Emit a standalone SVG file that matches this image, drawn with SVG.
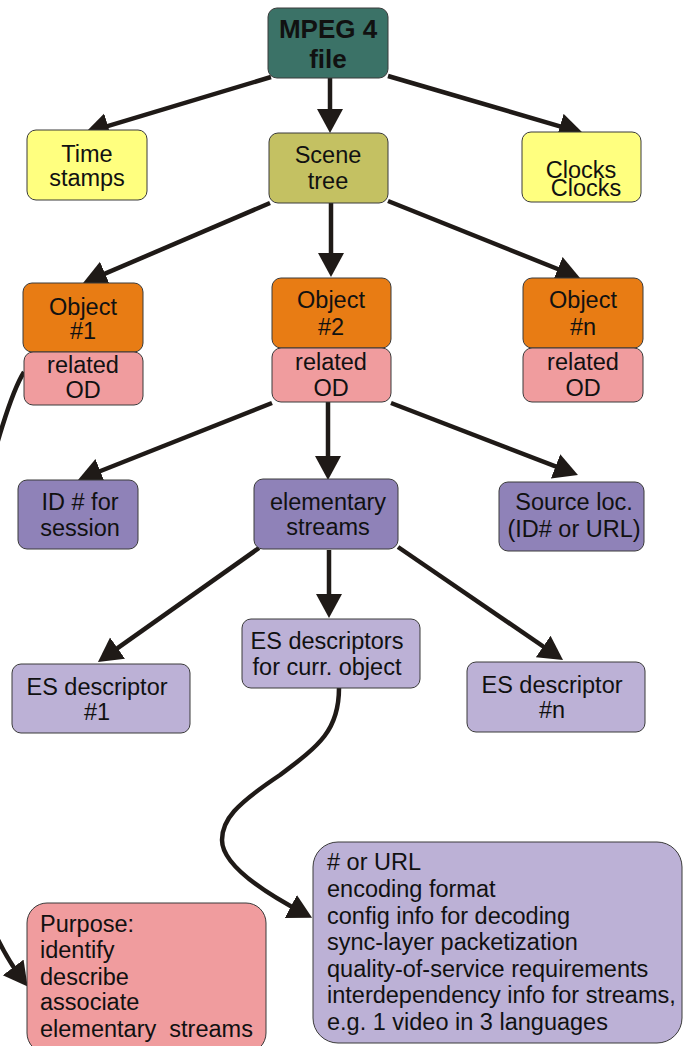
<svg xmlns="http://www.w3.org/2000/svg" width="683" height="1046" viewBox="0 0 683 1046">
<style>
.box{stroke:#3a3a3a;stroke-width:1}
.t{font-family:"Liberation Sans",Arial,sans-serif;font-size:23.5px;fill:#111;text-anchor:middle}
.l{font-family:"Liberation Sans",Arial,sans-serif;font-size:23.5px;fill:#111}
.b{font-family:"Liberation Sans",Arial,sans-serif;font-size:26px;font-weight:bold;fill:#111;text-anchor:middle}
.c{fill:none;stroke:#1f1a17;stroke-width:4.5}
</style>
<defs>
<marker id="ah" markerUnits="userSpaceOnUse" markerWidth="26" markerHeight="28" refX="16" refY="13" orient="auto">
<path d="M0,0 L24,13 L0,26 Z" fill="#1f1a17"/>
</marker>
</defs>
<rect width="683" height="1046" fill="#fff"/>
<g id="connectors">
<path class="c" marker-end="url(#ah)" d="M271,77 L92.6,130.6"/>
<path class="c" marker-end="url(#ah)" d="M330,78 L330,125"/>
<path class="c" marker-end="url(#ah)" d="M388,76 L575.3,130.8"/>
<path class="c" marker-end="url(#ah)" d="M270,203 L90.4,279.9"/>
<path class="c" marker-end="url(#ah)" d="M331,203 L331,269"/>
<path class="c" marker-end="url(#ah)" d="M388,201 L572.6,275"/>
<path class="c" marker-end="url(#ah)" d="M272,403 L85.4,477"/>
<path class="c" marker-end="url(#ah)" d="M328,402 L328,472"/>
<path class="c" marker-end="url(#ah)" d="M391,403 L570.5,472.1"/>
<path class="c" marker-end="url(#ah)" d="M259,548 L104.5,657.4"/>
<path class="c" marker-end="url(#ah)" d="M329,550 L329,610"/>
<path class="c" marker-end="url(#ah)" d="M398,547 L556.4,655.5"/>
<path class="c" marker-end="url(#ah)" d="M24,372 C0,410 -50,600 -45,750 C-40,880 0,950 22.8,980.2"/>
<path class="c" marker-end="url(#ah)" d="M339,688 C339,730 320,745 280,775 C235,805 222,820 222,840 C222,865 265,893 305,914"/>
</g>
<g id="mpeg4"><rect class="box" x="268" y="8" width="120" height="70" rx="9" fill="#3b7267"/><text class="b" x="328" y="38">MPEG 4</text><text class="b" x="328" y="68">file</text></g>
<g id="timestamps"><rect class="box" x="27" y="130" width="120" height="70" rx="9" fill="#ffff7f"/><text class="t" x="87" y="162">Time</text><text class="t" x="87" y="186">stamps</text></g>
<g id="scenetree"><rect class="box" x="269" y="133" width="119" height="70" rx="9" fill="#c4c162"/><text class="t" x="328" y="163">Scene</text><text class="t" x="328" y="189">tree</text></g>
<g id="clocks"><rect class="box" x="522" y="132" width="119" height="70" rx="9" fill="#ffff7f"/><text class="t" x="581" y="178">Clocks</text><text class="t" x="586" y="196">Clocks</text></g>
<g id="object1"><rect class="box" x="23" y="283" width="120" height="69" rx="9" fill="#e87c14"/><text class="t" x="83" y="315">Object</text><text class="t" x="83" y="339">#1</text></g>
<g id="od1"><rect class="box" x="24" y="352" width="119" height="53" rx="9" fill="#f09c9e"/><text class="t" x="83" y="373">related</text><text class="t" x="83" y="398">OD</text></g>
<g id="object2"><rect class="box" x="272" y="278" width="119" height="70" rx="9" fill="#e87c14"/><text class="t" x="331" y="308">Object</text><text class="t" x="331" y="335">#2</text></g>
<g id="od2"><rect class="box" x="272" y="348" width="119" height="54" rx="9" fill="#f09c9e"/><text class="t" x="331" y="370">related</text><text class="t" x="331" y="396">OD</text></g>
<g id="objectn"><rect class="box" x="523" y="278" width="120" height="70" rx="9" fill="#e87c14"/><text class="t" x="583" y="308">Object</text><text class="t" x="583" y="335">#n</text></g>
<g id="odn"><rect class="box" x="523" y="348" width="120" height="54" rx="9" fill="#f09c9e"/><text class="t" x="583" y="370">related</text><text class="t" x="583" y="396">OD</text></g>
<g id="idsession"><rect class="box" x="18" y="480" width="120" height="69" rx="9" fill="#8f82b8"/><text class="t" x="80" y="510">ID # for</text><text class="t" x="80" y="536">session</text></g>
<g id="elementary"><rect class="box" x="254" y="479" width="144" height="70" rx="9" fill="#8f82b8"/><text class="t" x="328" y="510">elementary</text><text class="t" x="328" y="535">streams</text></g>
<g id="sourceloc"><rect class="box" x="499" y="482" width="145" height="69" rx="9" fill="#8f82b8"/><text class="t" x="574" y="510">Source loc.</text><text class="t" x="574" y="537">(ID# or URL)</text></g>
<g id="esdesc1"><rect class="box" x="12" y="664" width="178" height="69" rx="9" fill="#bcb1d6"/><text class="t" x="97" y="695">ES descriptor</text><text class="t" x="97" y="720">#1</text></g>
<g id="escurr"><rect class="box" x="242" y="619" width="178" height="69" rx="9" fill="#bcb1d6"/><text class="t" x="327" y="649">ES descriptors</text><text class="t" x="327" y="675">for curr. object</text></g>
<g id="esdescn"><rect class="box" x="467" y="662" width="178" height="70" rx="9" fill="#bcb1d6"/><text class="t" x="552" y="693">ES descriptor</text><text class="t" x="552" y="718">#n</text></g>
<g id="purpose"><rect class="box" x="27" y="903" width="239" height="150" rx="20" fill="#f09c9e"/>
<text class="l" x="40" y="932">Purpose:</text><text class="l" x="40" y="958">identify</text><text class="l" x="40" y="985">describe</text><text class="l" x="40" y="1010">associate</text><text class="l" x="40" y="1037" xml:space="preserve">elementary  streams</text></g>
<g id="esinfo"><rect class="box" x="313" y="842" width="369" height="201" rx="25" fill="#bcb1d6"/>
<text class="l" x="327" y="870">#  or URL</text><text class="l" x="327" y="897">encoding format</text><text class="l" x="327" y="924">config info for decoding</text><text class="l" x="327" y="950">sync-layer packetization</text><text class="l" x="327" y="977">quality-of-service requirements</text><text class="l" x="327" y="1003">interdependency info for streams,</text><text class="l" x="327" y="1030">e.g. 1 video in 3 languages</text></g>
</svg>
